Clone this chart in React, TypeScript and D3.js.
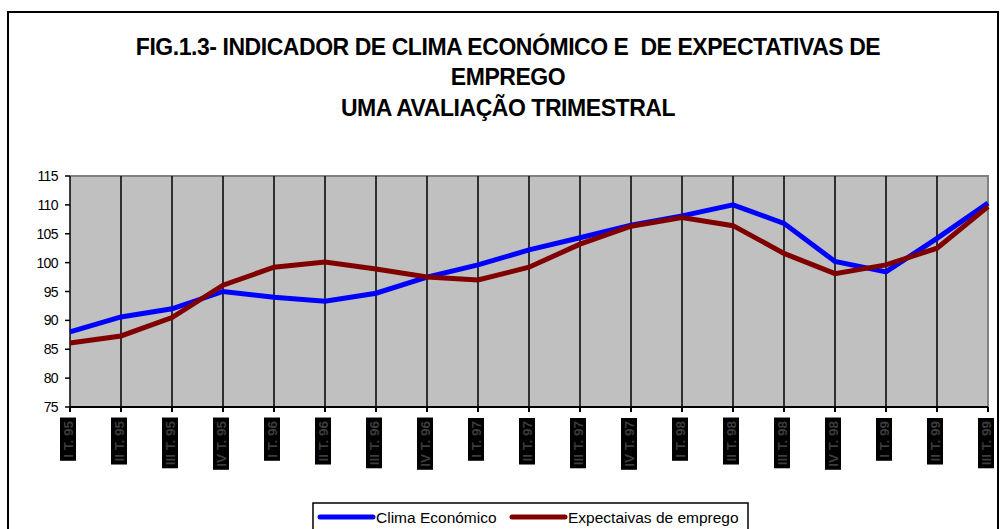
import React, { useEffect, useRef } from "react";
import * as d3 from "d3";

const quarters = ["I", "II", "III", "IV", "I", "II", "III", "IV", "I", "II", "III", "IV", "I", "II", "III", "IV", "I", "II", "III"];
const years = ["95", "95", "95", "95", "96", "96", "96", "96", "97", "97", "97", "97", "98", "98", "98", "98", "99", "99", "99"];
const categories = quarters.map((q, i) => `${q} T. ${years[i]}`);

const climaEconomico = [88.0, 90.6, 92.0, 95.0, 94.0, 93.3, 94.7, 97.5, 99.6, 102.2, 104.3, 106.5, 108.1, 110.0, 106.8, 100.2, 98.4, 104.2, 110.3];
const expectativasEmprego = [86.1, 87.3, 90.5, 96.1, 99.2, 100.1, 98.9, 97.5, 97.0, 99.2, 103.2, 106.3, 107.8, 106.4, 101.6, 98.1, 99.6, 102.5, 109.7];

const yTicks = [75, 80, 85, 90, 95, 100, 105, 110, 115];
const titleLines = [
  "FIG.1.3- INDICADOR DE CLIMA ECONÓMICO E  DE EXPECTATIVAS DE",
  "EMPREGO",
  "UMA AVALIAÇÃO TRIMESTRAL",
];
const seriesNames = ["Clima Económico", "Expectaivas de emprego"];
const seriesColors = ["#0000FF", "#800000"];

export default function App() {
  const ref = useRef<SVGSVGElement>(null);

  useEffect(() => {
    const svg = d3.select(ref.current);
    svg.selectAll("*").remove();
    const W = 1000, H = 529;
    const left = 70, right = 988, top = 176, bottom = 407;
    const font = "'Liberation Sans', Arial, sans-serif";

    // outer frame
    svg.append("rect").attr("x", 0).attr("y", 0).attr("width", W).attr("height", H).attr("fill", "#fff");
    svg.append("path")
      .attr("d", `M8,535 L8,12 L998,12 L998,535`)
      .attr("fill", "none").attr("stroke", "#000").attr("stroke-width", 2);

    // title
    const tl = svg.append("text")
      .attr("text-anchor", "middle")
      .attr("font-family", font)
      .attr("font-weight", "bold")
      .attr("font-size", 23)
      .attr("letter-spacing", -0.45)
      .style("white-space", "pre");
    titleLines.forEach((t, i) => {
      tl.append("tspan").attr("x", 508).attr("y", 54.5 + i * 30.5).text(t);
    });

    const x = d3.scalePoint<number>().domain(d3.range(categories.length)).range([left, right]);
    const y = d3.scaleLinear().domain([75, 115]).range([bottom, top]);

    // plot area
    svg.append("rect").attr("x", left).attr("y", top).attr("width", right - left).attr("height", bottom - top).attr("fill", "#C0C0C0");
    svg.append("path")
      .attr("d", `M${left},${top} L${right},${top} L${right},${bottom}`)
      .attr("fill", "none").attr("stroke", "#808080").attr("stroke-width", 2);

    // vertical gridlines
    categories.forEach((_, i) => {
      if (i === categories.length - 1) return;
      svg.append("line")
        .attr("x1", x(i)!).attr("x2", x(i)!)
        .attr("y1", top).attr("y2", bottom)
        .attr("stroke", "#000").attr("stroke-width", 1.5);
    });

    // x axis
    svg.append("line").attr("x1", left).attr("x2", right).attr("y1", bottom).attr("y2", bottom).attr("stroke", "#000").attr("stroke-width", 2);
    categories.forEach((_, i) => {
      svg.append("line").attr("x1", x(i)!).attr("x2", x(i)!).attr("y1", bottom).attr("y2", bottom + 5).attr("stroke", "#000").attr("stroke-width", 2);
    });

    // y axis
    yTicks.forEach((t) => {
      svg.append("line").attr("x1", left - 5).attr("x2", left).attr("y1", y(t)).attr("y2", y(t)).attr("stroke", "#000").attr("stroke-width", 1.5);
      svg.append("text")
        .attr("x", left - 12).attr("y", y(t)).attr("dy", "0.36em")
        .attr("text-anchor", "end")
        .attr("font-family", font).attr("font-size", 14).attr("letter-spacing", -0.6)
        .attr("fill", "#000")
        .text(t);
    });

    // x labels: rotated, dark glyphs on black boxes
    categories.forEach((c, i) => {
      const g = svg.append("g").attr("transform", `translate(${x(i)! - 2},421) rotate(-90)`);
      const r = g.append("rect").attr("fill", "#000");
      const t = g.append("text")
        .attr("x", 0).attr("y", 0).attr("dy", "0.35em")
        .attr("text-anchor", "end")
        .attr("font-family", font).attr("font-weight", "bold").attr("font-size", 13.5)
        .attr("fill", "#3c3c3c")
        .text(c);
      const bb = (t.node() as SVGTextElement).getBBox();
      r.attr("x", bb.x - 3).attr("y", -8).attr("width", bb.width + 6).attr("height", 16);
    });

    // lines
    const series = [climaEconomico, expectativasEmprego];
    const line = d3.line<number>().x((_, i) => x(i)!).y((d) => y(d));
    series.forEach((s, k) => {
      svg.append("path")
        .datum(s)
        .attr("d", line)
        .attr("fill", "none")
        .attr("stroke", seriesColors[k])
        .attr("stroke-width", 5)
        .attr("stroke-linejoin", "miter");
    });

    // legend
    svg.append("rect").attr("x", 313).attr("y", 503).attr("width", 435).attr("height", 40).attr("fill", "#fff").attr("stroke", "#000").attr("stroke-width", 1.5);
    const legendX = [320, 512];
    seriesNames.forEach((n, k) => {
      svg.append("line").attr("x1", legendX[k]).attr("x2", legendX[k] + 53).attr("y1", 517).attr("y2", 517)
        .attr("stroke", seriesColors[k]).attr("stroke-width", 5).attr("stroke-linecap", "round");
      svg.append("text").attr("x", legendX[k] + 56).attr("y", 517).attr("dy", "0.36em")
        .attr("font-family", font).attr("font-size", 15.5)
        .text(n);
    });
  }, []);

  return (
    <div style={{ position: "absolute", left: 0, top: 0, width: 1000, height: 529, overflow: "hidden" }}>
      <svg ref={ref} width={1000} height={529} style={{ display: "block" }} />
    </div>
  );
}
